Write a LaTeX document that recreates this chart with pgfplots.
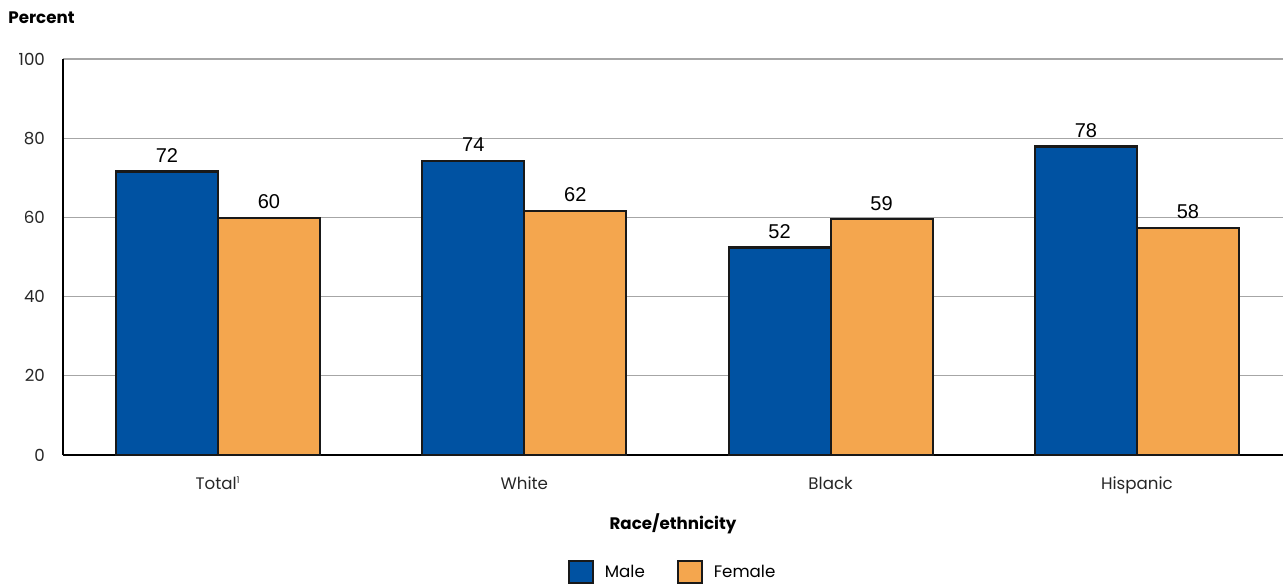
\documentclass[border=0pt]{standalone}
\usepackage{pgfplots}
\pgfplotsset{compat=1.18}
\usepackage{fontspec}
\setmainfont{Poppins}
\newfontfamily\valfont{Liberation Sans}
\definecolor{mblue}{HTML}{0052A2}
\definecolor{forange}{HTML}{F4A64E}
\definecolor{gridgray}{HTML}{A6A6A6}
\begin{document}
\begin{tikzpicture}[x=1pt,y=1pt]
\begin{axis}[
  name=ax,
  scale only axis,
  width=915pt, height=297pt,
  ybar=0pt, bar width=76.5pt,
  xmin=-0.506, xmax=3.477,
  ymin=0, ymax=100,
  enlargelimits=false,
  axis x line=bottom, axis y line=left,
  axis line style={line width=1.5pt, -},
  xtick={0,1,2,3},
  xticklabels={Total\textsuperscript{\scriptsize 1}, White, Black, Hispanic},
  ytick={0,20,40,60,80,100},
  major tick length=0pt,
  ymajorgrids, grid style={gridgray, line width=0.8pt},
  tick label style={font=\fontsize{12.5}{14}\selectfont, text=black!85},
  /pgf/number format/assume math mode=true,
  xticklabel style={yshift=-13pt},
  yticklabel style={xshift=-10pt},
  xlabel={\bfseries Race/ethnicity},
  xlabel style={font=\fontsize{12.5}{14}\selectfont, yshift=-8pt},
  point meta=explicit symbolic,
  nodes near coords,
  every node near coord/.append style={font=\valfont\fontsize{15}{17}\selectfont, yshift=2.5pt},
  legend columns=2,
  legend style={draw=none, at={(0.5,-0.2955)}, anchor=center,
    font=\fontsize{12.5}{14}\selectfont,
    /tikz/every even column/.append style={column sep=22pt}},
  legend image code/.code={\draw[#1, line width=1.4pt] (0pt,-8.5pt) rectangle (18pt,8.5pt); \path[draw=none, fill=none] (0pt,0pt) rectangle (25pt,0.1pt);},
  axis on top=false,
]
\addplot[fill=mblue, draw=black!90, line width=1.6pt] coordinates {(0,71.6) [72] (1,74.3) [74] (2,52.4) [52] (3,77.9) [78]};
\addplot[fill=forange, draw=black!90, line width=1.6pt] coordinates {(0,59.9) [60] (1,61.7) [62] (2,59.5) [59] (3,57.4) [58]};
\legend{Male, Female}
\end{axis}
\node[anchor=west, font=\fontsize{12.5}{14}\selectfont\bfseries] at ([xshift=-44.5pt, yshift=30.75pt]ax.north west) {Percent};
\pgfresetboundingbox
\path[use as bounding box] ([xshift=-47.25pt, yshift=-98.25pt]ax.south west) rectangle ([yshift=44.25pt]ax.north east);
\end{tikzpicture}
\end{document}
